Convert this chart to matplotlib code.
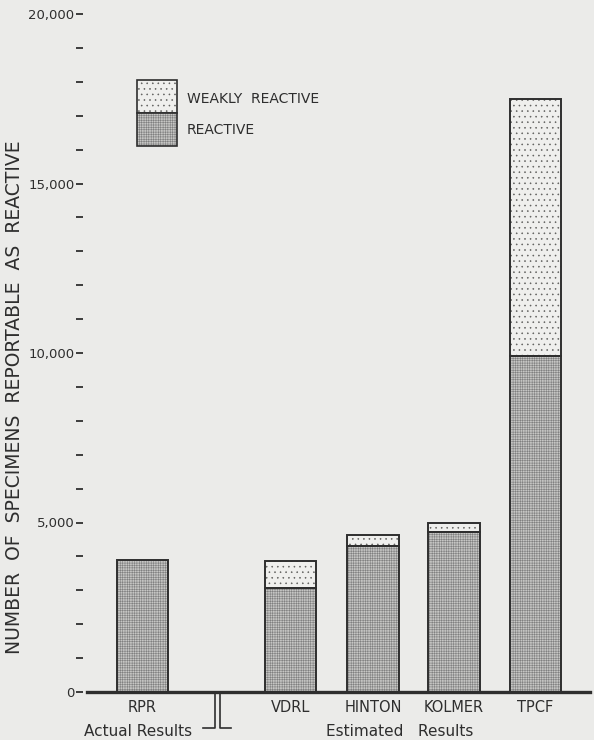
import numpy as np
import matplotlib
matplotlib.use("Agg")
import matplotlib.pyplot as plt
from matplotlib.lines import Line2D
from matplotlib.patches import Rectangle

# datos
tests = ["RPR", "VDRL", "HINTON", "KOLMER", "TPCF"]
reactive = [3900, 3080, 4320, 4720, 9900]
weakly = [0, 780, 300, 280, 7600]
yticks = [0, 5000, 10000, 15000, 20000]
ytick_labels = ["0", "5,000", "10,000", "15,000", "20,000"]

bg = "#ebebe9"
ink = "#2e2e2e"
grid_fc, grid_hc = "#c6c6c4", "#808080"
dot_fc, dot_hc = "#efefed", "#5e5e5c"
plt.rcParams["font.family"] = ["DejaVu Sans"]
plt.rcParams["hatch.linewidth"] = 0.4

fig = plt.figure(figsize=(5.94, 7.40), dpi=100, facecolor=bg)
W, H = 594, 740
ax = fig.add_axes([87 / W, 1 - 692 / H, (590 - 87) / W, (692 - 14) / H])
ax.set_facecolor(bg)

# RPR separado del resto por el corte del eje
xpos = np.array([0, 1.82, 2.83, 3.82, 4.82])
width = 0.63

# relleno con trama (color de trama = edgecolor), luego el contorno
ax.bar(xpos, reactive, width, facecolor=grid_fc, edgecolor=grid_hc,
       linewidth=0, hatch="+++++++")
ax.bar(xpos[1:], weakly[1:], width, bottom=reactive[1:], facecolor=dot_fc,
       edgecolor=dot_hc, linewidth=0, hatch="...")
ax.bar(xpos, reactive, width, fill=False, edgecolor=ink, linewidth=1.4)
ax.bar(xpos[1:], weakly[1:], width, bottom=reactive[1:], fill=False,
       edgecolor=ink, linewidth=1.4)

ax.set_xlim(-0.68, 5.49)
ax.set_ylim(0, 20000)

for s in ["top", "right", "left"]:
    ax.spines[s].set_visible(False)
ax.spines["bottom"].set_linewidth(2.4)
ax.spines["bottom"].set_color(ink)
ax.spines["left"].set_position(("outward", 3))

ax.set_yticks(yticks)
ax.set_yticklabels(ytick_labels)
ax.set_yticks(np.arange(1000, 20000, 1000), minor=True)
ax.tick_params(axis="y", which="both", length=5, width=1.3, color=ink,
               labelsize=9.5, labelcolor=ink, pad=1)
ax.set_xticks(xpos)
ax.set_xticklabels(tests)
ax.tick_params(axis="x", length=0, labelsize=10.5, labelcolor=ink, pad=6)

ax.set_ylabel("NUMBER  OF  SPECIMENS  REPORTABLE  AS  REACTIVE", fontsize=13.5,
              color=ink)
ax.yaxis.set_label_coords(-0.125, 0.435)

# leyenda dibujada a mano
fx = lambda px: px / W
fy = lambda py: 1 - py / H
for y0, fc, hc, hatch in [(113, dot_fc, dot_hc, "..."), (146, grid_fc, grid_hc, "+++++++")]:
    fig.patches.append(Rectangle((fx(137), fy(y0)), 40 / W, 33 / H,
                                 transform=fig.transFigure, facecolor=fc,
                                 edgecolor=hc, linewidth=0, hatch=hatch))
    fig.patches.append(Rectangle((fx(137), fy(y0)), 40 / W, 33 / H,
                                 transform=fig.transFigure, fill=False,
                                 edgecolor=ink, linewidth=1.2))
fig.text(fx(187), fy(99), "WEAKLY  REACTIVE", fontsize=10, color=ink, va="center")
fig.text(fx(187), fy(130), "REACTIVE", fontsize=10, color=ink, va="center")

# simbolo de corte del eje
for xs, ys in [([203, 215, 215], [728, 728, 692]), ([231, 220, 220], [728, 728, 692])]:
    fig.lines.append(Line2D([fx(x) for x in xs], [fy(y) for y in ys],
                            transform=fig.transFigure, color=ink, linewidth=1.2))

fig.text(fx(138), fy(732), "Actual Results", fontsize=11, color=ink,
         ha="center", va="center")
fig.text(fx(400), fy(732), "Estimated   Results", fontsize=11, color=ink,
         ha="center", va="center")

fig.savefig("out.png", dpi=100, facecolor=bg)
